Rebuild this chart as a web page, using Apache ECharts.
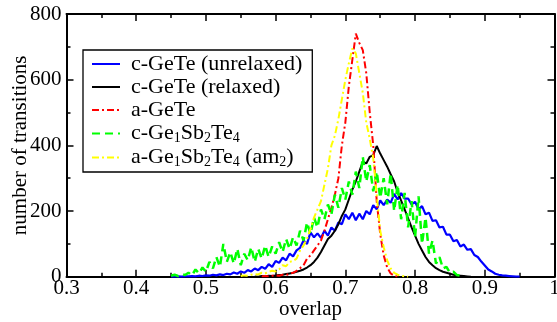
<!DOCTYPE html>
<html><head><meta charset="utf-8">
<script src="https://cdn.jsdelivr.net/npm/echarts@6/dist/echarts.min.js"></script>
<style>html,body{margin:0;padding:0;background:#fff}#c{width:557px;height:322px}</style>
</head><body><div id="c"></div>
<script>
// histogram bin width (overlap)
const binStep = 0.005;

const xTicks = ['0.3','0.4','0.5','0.6','0.7','0.8','0.9','1'];
const yTicks = ['0','200','400','600','800'];

const names = ['c-GeTe (unrelaxed)','c-GeTe (relaxed)','a-GeTe','c-Ge1Sb2Te4','a-Ge1Sb2Te4 (am2)'];

// c-GeTe (unrelaxed), bins starting at 0.450
const unrelaxedStart = 0.45;
const unrelaxed = [0,0,1,0,1,1,2,1,3,2,
  4,3,6,4,7,5,9,7,13,9,
  16,12,20,16,25,20,30,24,38,30,
  48,42,58,50,70,62,80,88,110,100,
  135,120,132,118,140,125,150,140,165,160,
  190,175,195,172,192,175,200,190,218,205,
  232,218,235,225,252,235,255,238,238,220,
  228,205,215,190,195,170,172,150,152,128,
  128,108,112,92,98,82,84,66,60,46,
  34,22,16,9,6,4,3,2,1,0,0];

// c-GeTe (relaxed), bins starting at 0.570
const relaxedStart = 0.57;
const relaxed = [1,0,2,1,3,2,4,5,6,8,10,12,15,18,22,28,35,45,58,75,95,115,125,140,160,185,205,235,265,290,320,350,345,365,370,398,375,355,335,312,290,258,232,205,178,150,125,100,80,60,45,35,26,20,15,12,9,6,4,3,2,1,0];

// a-GeTe, bins starting at 0.580
const aGeTeStart = 0.58;
const aGeTe = [1,2,1,3,4,3,6,5,9,12,18,26,35,55,65,80,95,110,140,175,210,250,300,400,470,580,660,740,712,690,620,500,400,230,130,65,28,10,3,0];

// c-Ge1Sb2Te4, bins starting at 0.450
const cGSTStart = 0.45;
const cGST = [3,6,2,8,5,12,4,22,10,28,15,45,25,60,30,100,45,75,40,85,35,70,50,90,45,85,55,95,60,92,70,105,75,115,85,120,95,140,110,165,130,180,150,205,175,220,190,250,210,270,235,290,250,320,270,365,290,340,260,320,240,300,220,315,200,280,175,255,150,230,120,245,100,180,70,110,40,60,25,30,12,15,5,3,0];

// a-Ge1Sb2Te4 (am2), bins starting at 0.550
const aGSTStart = 0.55;
const aGST = [2,4,3,6,8,7,12,10,15,18,16,22,35,32,45,48,55,80,95,115,145,180,205,230,280,330,400,430,480,540,600,650,695,680,620,560,470,420,360,250,140,90,50,25,12,6,3,1,0];

function pairs(start, vals){
  return vals.map((v,i)=>[+(start + i*binStep).toFixed(3), v]);
}

const FONT = "'Liberation Serif','Times New Roman',serif";
const FS = 21;
const labelMap = {
  'c-GeTe (unrelaxed)': 'c-GeTe (unrelaxed)',
  'c-GeTe (relaxed)': 'c-GeTe (relaxed)',
  'a-GeTe': 'a-GeTe',
  'c-Ge1Sb2Te4': 'c-Ge{sub|1}Sb{sub|2}Te{sub|4}',
  'a-Ge1Sb2Te4 (am2)': 'a-Ge{sub|1}Sb{sub|2}Te{sub|4} (am{sub|2})'
};

const chart = echarts.init(document.getElementById('c'), null, {renderer:'canvas'});

const axisCommon = {
  axisLine: {show:true, onZero:false, lineStyle:{color:'#000', width:2}},
  axisTick: {show:true, inside:true, length:7, lineStyle:{color:'#000', width:1.5}},
  minorTick: {show:true, splitNumber:2, length:4, lineStyle:{color:'#000', width:1.5}},
  splitLine: {show:false}
};

function mk(name, color, type, data, width){
  return {
    name, type:'line', data, symbol:'none', symbolSize:0, showSymbol:false,
    lineStyle:{color, width: width||2, type},
    itemStyle:{color, opacity:0},
    emphasis:{disabled:true},
    animation:false, z: 3
  };
}

chart.setOption({
  backgroundColor:'#fff',
  animation:false,
  grid:{left:66.5, right:2.5, top:14, bottom:45.3, containLabel:false, outerBoundsMode:'none'},
  xAxis:[
    Object.assign({type:'value', position:'bottom', min:0.3, max:1.0, interval:0.1,
      name:'overlap', nameLocation:'middle', nameGap:22, nameMoveOverlap:false,
      nameTextStyle:{fontFamily:FONT, fontSize:FS, color:'#000'},
      axisLabel:{fontFamily:FONT, fontSize:FS, color:'#000', margin:1,
        formatter:(v)=>{ const i=Math.round((v-0.3)/0.1); return xTicks[i]!==undefined?xTicks[i]:''; }}
    }, axisCommon),
    Object.assign({type:'value', position:'top', min:0.3, max:1.0, interval:0.1,
      axisLabel:{show:false}}, axisCommon)
  ],
  yAxis:[
    Object.assign({type:'value', position:'left', min:0, max:800, interval:200,
      name:'number of transitions', nameLocation:'middle', nameGap:36, nameMoveOverlap:false,
      nameTextStyle:{fontFamily:FONT, fontSize:FS, color:'#000'},
      axisLabel:{fontFamily:FONT, fontSize:FS, color:'#000', margin:5,
        formatter:(v)=>{ const i=Math.round(v/200); return yTicks[i]!==undefined?yTicks[i]:''; }}
    }, axisCommon),
    Object.assign({type:'value', position:'right', min:0, max:800, interval:200,
      axisLabel:{show:false}}, axisCommon)
  ],
  legend:{
    show:true, orient:'vertical', left:83, top:50,
    padding:[3,10,3,8], itemGap:1, itemWidth:28, itemHeight:12,
    borderColor:'#000', borderWidth:1.3, backgroundColor:'#fff',
    data:names,
    itemStyle:{opacity:0, borderWidth:0},
    selectedMode:false,
    formatter:(n)=>labelMap[n],
    textStyle:{fontFamily:FONT, fontSize:22, color:'#000', padding:[0,0,0,6], lineHeight:21,
      rich:{sub:{fontFamily:FONT, fontSize:14, color:'#000', padding:[9,0,0,0], lineHeight:12}}}
  },
  series:[
    mk(names[0], '#0000ff', 'solid', pairs(unrelaxedStart, unrelaxed), 2.2),
    mk(names[1], '#000000', 'solid', pairs(relaxedStart, relaxed), 2),
    mk(names[2], '#ff0000', [7,3,2,3], pairs(aGeTeStart, aGeTe), 2),
    mk(names[3], '#00ff00', [8,5], pairs(cGSTStart, cGST), 2.5),
    mk(names[4], '#ffff00', [7,3,2,3], pairs(aGSTStart, aGST), 2)
  ]
});
</script></body></html>
